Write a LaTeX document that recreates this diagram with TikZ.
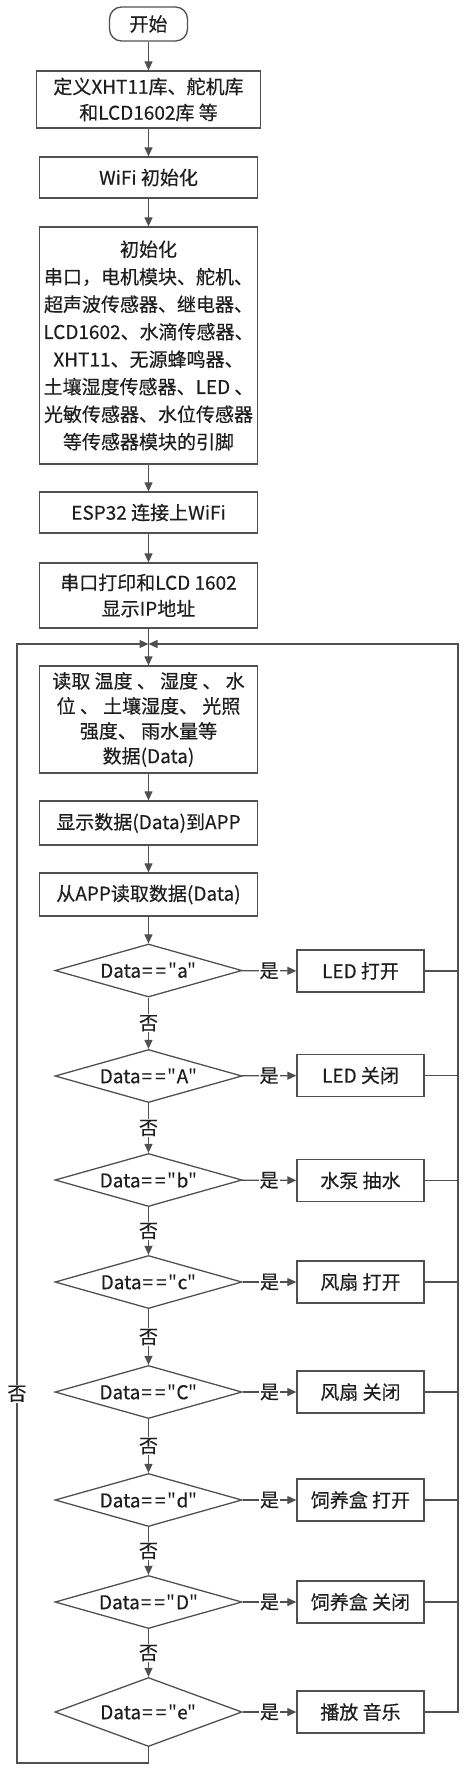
\documentclass[tikz,border=0pt]{standalone}
\usepackage{fontspec}
\setmainfont{Noto Sans CJK SC}[FakeBold=0.4]
\usepackage{xcolor}
\usepackage{tikz}
\usetikzlibrary{shapes.geometric,arrows.meta}
\definecolor{edge}{RGB}{80,80,80}
\definecolor{ink}{RGB}{30,30,30}
\font\qfont="Noto Sans CJK SC" at 19pt
\newcommand\qmark{{\qfont\char34}}
\newcommand\eqeq{\kern1pt=\kern3pt=\kern2pt}

\begin{document}
\begin{tikzpicture}[
  x=1pt, y=1pt,
  font=\fontsize{19}{26}\selectfont, text=ink,
  proc/.style={rectangle, draw=edge, line width=1.3pt, align=center, inner sep=2pt, minimum width=218pt},
  term/.style={proc, rounded corners=12pt, minimum width=78pt, minimum height=34pt},
  cond/.style={diamond, draw=edge, line width=1.3pt, inner sep=0pt, aspect=3.5, minimum width=187pt, minimum height=53pt},
  act/.style={proc, minimum width=127pt, minimum height=42pt},
  link/.style={-{Triangle[length=9pt,width=8pt]}, draw=edge, line width=1.2pt},
  wire/.style={draw=edge, line width=1.2pt},
  lab/.style={fill=white, inner sep=1pt}
]
\useasboundingbox (0,0) rectangle (468,-1773);
% setup
\node[term] (start) at (148.5,-24) {开始};
\node[proc, minimum width=224pt, minimum height=57pt] (libs) at (148.5,-99.5) {定义XHT11库、舵机库\\和LCD1602库 等};
\node[proc, minimum height=41pt] (wifi) at (148.5,-177.5) {WiFi 初始化};
\node[proc, minimum height=237pt, font=\fontsize{19}{27.5}\selectfont] (pins) at (148.5,-345.5) {初始化\\串口，电机模块、舵机、\\超声波传感器、继电器、\\LCD1602、水滴传感器、\\XHT11、无源蜂鸣器、\\土壤湿度传感器、LED 、\\光敏传感器、水位传感器\\等传感器模块的引脚};
\node[proc, minimum height=41pt] (conn) at (148.5,-512.5) {ESP32 连接上WiFi};
\node[proc, minimum height=65pt] (ipaddr) at (148.5,-595.5) {串口打印和LCD 1602\\显示IP地址};
% main loop
\node[proc, minimum height=107pt, font=\fontsize{19}{25}\selectfont] (sense) at (148.5,-719.5) {读取 温度 、 湿度 、 水\\位 、 土壤湿度、 光照\\强度、 雨水量等\\数据(Data)};
\node[proc, minimum height=44pt] (toapp) at (148.5,-823) {显示数据(Data)到APP};
\node[proc, minimum height=43pt] (fromapp) at (148.5,-894.5) {从APP读取数据(Data)};
% decisions
\node[cond] (da) at (148.5,-970.5) {Data\eqeq\qmark a\qmark};
\node[cond] (dA) at (148.5,-1076) {Data\eqeq\qmark A\qmark};
\node[cond] (db) at (148.5,-1180) {Data\eqeq\qmark b\qmark};
\node[cond] (dc) at (148.5,-1282) {Data\eqeq\qmark c\qmark};
\node[cond] (dC) at (148.5,-1392) {Data\eqeq\qmark C\qmark};
\node[cond] (dd) at (148.5,-1500) {Data\eqeq\qmark d\qmark};
\node[cond] (dD) at (148.5,-1602) {Data\eqeq\qmark D\qmark};
\node[cond, minimum height=69pt] (de) at (148.5,-1712) {Data\eqeq\qmark e\qmark};
% actions
\node[act] (ledon)   at (360.5,-971)  {LED 打开};
\node[act] (ledoff)  at (360.5,-1075.5) {LED 关闭};
\node[act] (pump)    at (360.5,-1180.5) {水泵 抽水};
\node[act] (fanon)   at (360.5,-1282) {风扇 打开};
\node[act] (fanoff)  at (360.5,-1392) {风扇 关闭};
\node[act] (boxon)   at (360.5,-1500) {饲养盒 打开};
\node[act] (boxoff)  at (360.5,-1602) {饲养盒 关闭};
\node[act] (music)   at (360.5,-1712) {播放 音乐};
% loop corners
\coordinate (merge) at (148.5,-644);
\coordinate (rtop) at (458,-644);
\coordinate (lbot) at (17,-1763);
\coordinate (ltop) at (17,-644);
% flow
\draw[link] (start) -- (libs);
\draw[link] (libs) -- (wifi);
\draw[link] (wifi) -- (pins);
\draw[link] (pins) -- (conn);
\draw[link] (conn) -- (ipaddr);
\draw[link] (ipaddr) -- (sense);
\draw[link] (sense) -- (toapp);
\draw[link] (toapp) -- (fromapp);
\draw[link] (fromapp) -- (da);
\draw[link] (da) -- node[lab]{否} (dA);
\draw[link] (dA) -- node[lab]{否} (db);
\draw[link] (db) -- node[lab]{否} (dc);
\draw[link] (dc) -- node[lab]{否} (dC);
\draw[link] (dC) -- node[lab]{否} (dd);
\draw[link] (dd) -- node[lab]{否} (dD);
\draw[link] (dD) -- node[lab]{否} (de);
\draw[link] (da) -- node[lab]{是} (ledon);
\draw[link] (dA) -- node[lab]{是} (ledoff);
\draw[link] (db) -- node[lab]{是} (pump);
\draw[link] (dc) -- node[lab]{是} (fanon);
\draw[link] (dC) -- node[lab]{是} (fanoff);
\draw[link] (dd) -- node[lab]{是} (boxon);
\draw[link] (dD) -- node[lab]{是} (boxoff);
\draw[link] (de) -- node[lab]{是} (music);
% back to the loop
\draw[wire] (ledon) -- (ledon -| rtop);
\draw[wire] (ledoff) -- (ledoff -| rtop);
\draw[wire] (pump) -- (pump -| rtop);
\draw[wire] (fanon) -- (fanon -| rtop);
\draw[wire] (fanoff) -- (fanoff -| rtop);
\draw[wire] (boxon) -- (boxon -| rtop);
\draw[wire] (boxoff) -- (boxoff -| rtop);
\draw[link] (music) -| (rtop) -- (merge);
\draw[link] (de) |- (lbot) -- node[lab, pos=0.33]{否} (ltop) -- (merge);
\end{tikzpicture}
\end{document}
